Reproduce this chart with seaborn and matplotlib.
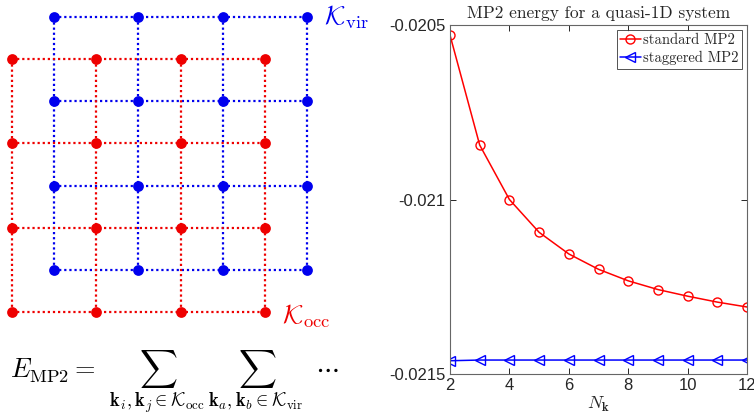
import numpy as np
import pandas as pd
import matplotlib
matplotlib.use("Agg")
import matplotlib.pyplot as plt
import seaborn as sns

# ---------------- data ----------------
N_k = [2, 3, 4, 5, 6, 7, 8, 9, 10, 11, 12]
standard_mp2 = [-0.020529, -0.020844, -0.021000, -0.021094, -0.021156, -0.021200,
                -0.021233, -0.021258, -0.021277, -0.021294, -0.021308]
staggered_mp2 = [-0.021462, -0.021460, -0.021460, -0.021460, -0.021460, -0.021460,
                 -0.021460, -0.021460, -0.021460, -0.021460, -0.021460]
series_labels = ["standard MP2", "staggered MP2"]
y_ticks = [-0.0215, -0.021, -0.0205]
y_tick_labels = ["-0.0215", "-0.021", "-0.0205"]
x_ticks = [2, 4, 6, 8, 10, 12]
title = "MP2 energy for a quasi-1D system"

# lattice diagram: occupied grid at integer nodes, virtual grid shifted by half a cell
occ_nodes = [0, 1, 2, 3]
vir_nodes = [0.5, 1.5, 2.5, 3.5]

sns.set_theme(style="white")
plt.rcParams["mathtext.fontset"] = "cm"
plt.rcParams["font.family"] = ["Liberation Sans", "DejaVu Sans"]

fig = plt.figure(figsize=(7.54, 4.15), dpi=100)
W, H = 754, 415

# ---------------- left diagram ----------------
axl = fig.add_axes([0, 0, 360 / W, 1])


def draw_lattice(ax, nodes, color, z):
    for v in nodes:
        ax.plot([nodes[0], nodes[-1]], [v, v], color=color, ls=(0, (1, 1.3)), lw=1.6, zorder=z)
        ax.plot([v, v], [nodes[0], nodes[-1]], color=color, ls=(0, (1, 1.3)), lw=1.6, zorder=z)
    gx, gy = np.meshgrid(nodes, nodes)
    df = pd.DataFrame({"x": gx.ravel(), "y": gy.ravel()})
    sns.scatterplot(data=df, x="x", y="y", ax=ax, color=color, s=60, edgecolor=color,
                    linewidth=0, zorder=z + 1, legend=False)


draw_lattice(axl, vir_nodes, "#0000ee", 2)
draw_lattice(axl, occ_nodes, "#ee0000", 4)
axl.set_xlim(-0.142, 4.128)
axl.set_ylim(-1.222, 3.701)
axl.axis("off")

axl.text(vir_nodes[-1] + 0.2, vir_nodes[-1], r"$\mathcal{K}_{\mathrm{vir}}$", color="#0000ee",
         fontsize=19, ha="left", va="center")
axl.text(occ_nodes[-1] + 0.2, occ_nodes[0] - 0.05, r"$\mathcal{K}_{\mathrm{occ}}$", color="#ee0000",
         fontsize=19, ha="left", va="center")
axl.text(-0.02, -0.83,
         r"$E_{\mathrm{MP2}} =\;\, \sum_{\mathbf{k}_i,\mathbf{k}_j\in\mathcal{K}_{\mathrm{occ}}}\,"
         r"\sum_{\mathbf{k}_a,\mathbf{k}_b\in\mathcal{K}_{\mathrm{vir}}}\;\; \cdots$",
         fontsize=19, ha="left", va="center", color="black")

# ---------------- right plot ----------------
ax = fig.add_axes([450 / W, (H - 374) / H, 297 / W, 349 / H])
sns.lineplot(x=N_k, y=standard_mp2, ax=ax, color="#ff0000", lw=1.1, marker="o",
             markersize=6.5, markerfacecolor="none", markeredgecolor="#ff0000",
             markeredgewidth=1.0, label=series_labels[0])
sns.lineplot(x=N_k, y=staggered_mp2, ax=ax, color="#0000ff", lw=1.1, marker="<",
             markersize=6.5, markerfacecolor="none", markeredgecolor="#0000ff",
             markeredgewidth=1.0, label=series_labels[1])
ax.set_xlim(2, 12)
ax.set_ylim(-0.0215, -0.0205)
ax.set_xticks(x_ticks)
ax.set_xticklabels([str(t) for t in x_ticks])
ax.set_yticks(y_ticks)
ax.set_yticklabels(y_tick_labels)
ax.tick_params(direction="in", length=4, width=0.7, color="0.15", labelcolor="0.15",
               labelsize=12, top=True, right=True, bottom=True, left=True, pad=3)
for s in ax.spines.values():
    s.set_visible(True)
    s.set_color("0.4")
    s.set_linewidth(0.8)
ax.set_title(title, fontfamily="cmr10", fontsize=12.5, pad=5)
ax.set_xlabel(r"$N_{\mathbf{k}}$", fontsize=13, labelpad=1)
ax.set_ylabel("")
leg = ax.legend(loc="upper right", prop={"family": "cmr10", "size": 10.5}, frameon=True,
                fancybox=False, edgecolor="0.15", handlelength=1.4, handletextpad=0.15,
                borderpad=0.25, labelspacing=0.25, borderaxespad=0.35)
leg.get_frame().set_linewidth(0.7)

fig.savefig("out.png", dpi=100)
